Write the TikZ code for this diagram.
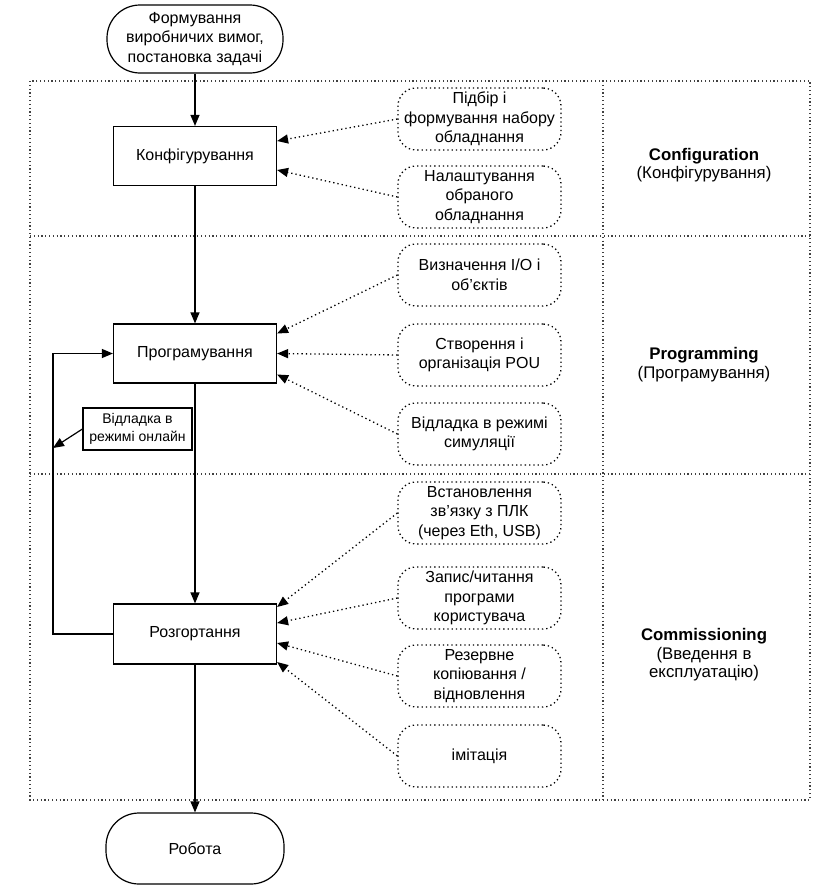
\documentclass[tikz,border=0pt]{standalone}
\usepackage{fontspec}
\setmainfont{Liberation Sans}
\usetikzlibrary{arrows.meta}

\begin{document}
\begin{tikzpicture}[x=1pt,y=-1pt,
  font=\fontsize{16}{19.5}\selectfont,
  term/.style={draw,line width=1.2pt,rounded corners=33pt,minimum width=176pt,minimum height=68pt,align=center},
  stage/.style={draw,line width=1.2pt,minimum width=163pt,minimum height=59pt},
  task/.style={draw,line width=1.3pt,dash pattern=on 1.3pt off 3pt,rounded corners=18pt,minimum width=163pt,minimum height=62pt,align=center},
  flow/.style={line width=1.2pt,-{Triangle[length=11pt,width=9pt]}},
  hint/.style={line width=1.3pt,dash pattern=on 1.3pt off 3pt,-{Triangle[length=11pt,width=9pt]}},
  lane/.style={line width=1.2pt,dash pattern=on 1.2pt off 2.6pt,black!75}]
  \useasboundingbox (0,0) rectangle (822,894);
  % рамка етапів
  \draw[lane] (30,81) rectangle (810,800);
  \draw[lane] (30,236) -- (810,236);
  \draw[lane] (30,474) -- (810,474);
  \draw[lane] (603,81) -- (603,800);
  % основні блоки
  \node[term] (start) at (195,39) {Формування\\виробничих вимог,\\постановка задачі};
  \node[stage] (konf) at (195,156) {Конфігурування};
  \node[stage] (prog) at (195,353.5) {Програмування};
  \node[stage,minimum height=60pt] (rozg) at (195,634) {Розгортання};
  \node[term,minimum width=178pt,minimum height=71pt] (work) at (195,848.5) {Робота};
  \foreach \a/\b in {start/konf,konf/prog,prog/rozg,rozg/work}
    \draw[flow] (\a) -- (\b);
  % зворотний зв'язок
  \draw[flow] (rozg.west) -- ++(-60,0) |- (prog.west);
  \node[draw,line width=1.2pt,align=center,font=\fontsize{14}{17.5}\selectfont,
    minimum width=109pt,minimum height=42pt] (online) at (137.5,429) {Відладка в\\режимі онлайн};
  \coordinate (loop) at (53,448);
  \draw[flow] (online.west) -- (loop);
  % задачі етапів
  \foreach \name/\yy/\txt in {
      t1/119/{Підбір і\\формування набору\\обладнання},
      t2/197/{Налаштування\\обраного\\обладнання},
      t3/275/{Визначення I/O і\\об’єктів},
      t4/355/{Створення і\\організація POU},
      t5/434/{Відладка в режимі\\симуляції},
      t6/513/{Встановлення\\зв’язку з ПЛК\\(через Eth, USB)},
      t7/598/{Запис/читання\\програми\\користувача},
      t8/676/{Резервне\\копіювання /\\відновлення},
      t9/756/{імітація}}
    \node[task] (\name) at (479.5,\yy) {\txt};
  \foreach \src/\dst/\dy in {t1/konf/15,t2/konf/-14,t3/prog/20,t4/prog/0,t5/prog/-21,
      t6/rozg/27,t7/rozg/11,t8/rozg/-9,t9/rozg/-28}
    \draw[hint] (\src.west) -- ([yshift=\dy pt]\dst.east);
  % назви етапів
  \begin{scope}[font=\fontsize{16.8}{18.5}\selectfont]
    \node[align=center] (cfg) at (704,165) {\textbf{Configuration}\\(Конфігурування)};
    \node[align=center] (prg) at (704,364.5) {\textbf{Programming}\\(Програмування)};
    \node[align=center] (com) at (704,655) {\textbf{Commissioning}\\(Введення в\\експлуатацію)};
  \end{scope}
\end{tikzpicture}
\end{document}
